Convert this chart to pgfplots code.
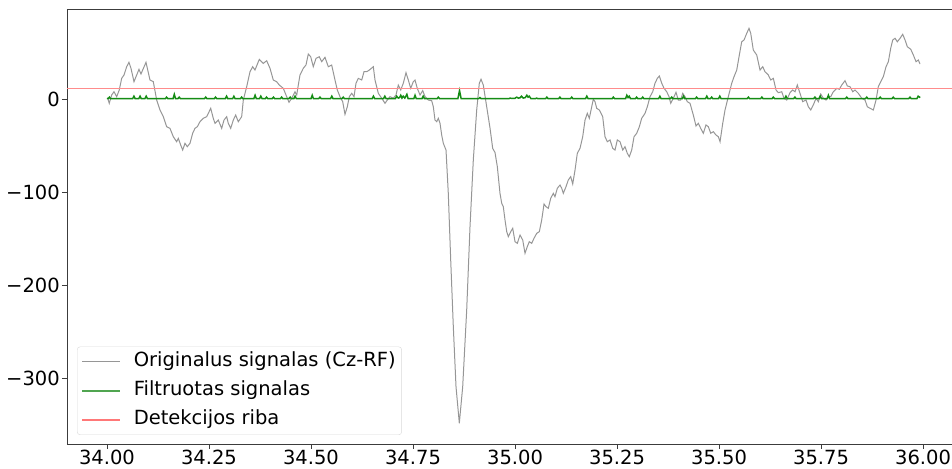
\documentclass[border=0pt]{standalone}
\usepackage{fontspec}
\setmainfont{DejaVu Sans}
\usepackage{pgfplots}
\pgfplotsset{compat=1.18}
\definecolor{sig}{RGB}{150,150,150}
\definecolor{filt}{RGB}{20,140,20}
\definecolor{filtl}{RGB}{80,165,80}
\definecolor{thr}{RGB}{255,140,140}
\definecolor{thrl}{RGB}{255,120,120}
\definecolor{spine}{RGB}{60,60,60}
\begin{document}
\begin{tikzpicture}
\begin{axis}[
  name=ax,
  width=885pt, height=435pt, scale only axis,
  xmin=33.902, xmax=36.071, ymin=-370.6, ymax=96.7,
  axis lines=left,
  axis line style={-, spine, line width=0.8pt},
  tick style={spine, line width=0.8pt},
  tick align=outside, major tick length=5pt,
  xtick={34,34.25,34.5,34.75,35,35.25,35.5,35.75,36},
  xticklabels={34.00,34.25,34.50,34.75,35.00,35.25,35.50,35.75,36.00},
  ytick={-300,-200,-100,0},
  yticklabels={−300,−200,−100,0},
  every tick label/.append style={font=\fontsize{19.5}{22}\selectfont, text=black},
  xticklabel style={inner sep=0pt, yshift=-0.5pt},
  yticklabel style={inner sep=0pt, xshift=-2pt},
  legend image code/.code={\draw[#1] (0pt,0pt) -- (38pt,0pt);},
  legend cell align=left,
  legend style={at={(0.0113,0.0207)}, anchor=south west,
    draw=black!15, rounded corners=3pt, fill=white,
    inner sep=4pt, row sep=7pt, column sep=11pt,
    font=\fontsize{19.5}{22}\selectfont,
    nodes={inner sep=2pt, text height=14pt, text depth=4pt}},
]
\addplot[draw=sig, line width=1pt, forget plot] coordinates {
(34.0017,0.8) (34.0056,-4.6) (34.0115,4.3) (34.0172,7.8) (34.0238,2.5) (34.0301,9.7) (34.0360,22.2) (34.0417,25.8) (34.0483,34.7) (34.0539,39.4)
(34.0588,33.0) (34.0662,18.6) (34.0784,31.9) (34.0833,26.9) (34.0956,39.4) (34.1054,20.4) (34.1135,18.6) (34.1218,-1.1) (34.1299,-11.8) (34.1380,-19.0)
(34.1463,-29.8) (34.1544,-31.5) (34.1625,-40.5) (34.1708,-45.9) (34.1748,-42.2) (34.1806,-49.4) (34.1855,-54.8) (34.1912,-47.6) (34.1968,-51.2) (34.2034,-47.6)
(34.2100,-36.8) (34.2157,-31.5) (34.2213,-29.8) (34.2279,-24.4) (34.2360,-20.7) (34.2444,-19.0) (34.2542,-10.0) (34.2605,-20.7) (34.2647,-26.1) (34.2728,-22.6)
(34.2811,-31.5) (34.2868,-22.6) (34.2934,-19.0) (34.2973,-26.1) (34.3032,-31.5) (34.3096,-22.6) (34.3154,-17.2) (34.3218,-24.4) (34.3301,-19.0) (34.3341,-1.1)
(34.3424,13.2) (34.3505,29.3) (34.3571,34.7) (34.3627,31.1) (34.3733,42.6) (34.3831,38.3) (34.3914,41.1) (34.3995,33.0) (34.4076,20.4) (34.4159,18.6)
(34.4223,15.0) (34.4321,11.5) (34.4404,2.5) (34.4461,-3.5) (34.4527,0.8) (34.4608,7.8) (34.4650,4.3) (34.4689,15.0) (34.4730,25.8) (34.4811,33.0)
(34.4877,36.5) (34.4934,48.3) (34.4993,45.4) (34.5056,34.7) (34.5123,43.7) (34.5203,45.4) (34.5262,40.1) (34.5343,44.8) (34.5424,34.7) (34.5507,36.5)
(34.5588,20.4) (34.5645,9.7) (34.5711,2.5) (34.5777,-2.9) (34.5833,-16.4) (34.5890,-8.3) (34.5939,2.5) (34.5998,6.1) (34.6054,2.5) (34.6103,16.9)
(34.6159,22.2) (34.6243,20.4) (34.6299,29.3) (34.6365,29.3) (34.6429,31.1) (34.6527,34.7) (34.6569,20.4) (34.6650,6.1) (34.6733,0.8) (34.6814,-4.6)
(34.6870,-1.1) (34.6936,2.5) (34.7017,0.8) (34.7083,4.3) (34.7140,15.0) (34.7199,9.7) (34.7262,16.9) (34.7328,28.2) (34.7385,20.4) (34.7444,11.5)
(34.7507,18.6) (34.7549,20.4) (34.7605,11.5) (34.7672,4.3) (34.7738,9.1) (34.7794,2.5) (34.7875,-1.1) (34.7958,-1.8) (34.7998,-8.3) (34.8039,-22.6)
(34.8081,-24.4) (34.8120,-20.7) (34.8162,-26.1) (34.8203,-38.7) (34.8243,-47.6) (34.8309,-54.8) (34.8365,-101.3) (34.8424,-172.9) (34.8488,-244.6) (34.8554,-309.0)
(34.8635,-348.3) (34.8718,-309.0) (34.8816,-226.6) (34.8897,-137.2) (34.8978,-65.5) (34.9061,-11.8) (34.9125,16.9) (34.9167,21.2) (34.9223,15.0) (34.9306,-8.3)
(34.9387,-31.1) (34.9453,-53.0) (34.9510,-57.5) (34.9566,-72.5) (34.9632,-101.3) (34.9674,-112.0) (34.9713,-115.7) (34.9755,-130.0) (34.9797,-142.5) (34.9836,-147.9)
(34.9895,-142.5) (34.9944,-138.9) (35.0000,-153.3) (35.0056,-155.0) (35.0123,-146.1) (35.0189,-151.5) (35.0245,-165.7) (35.0301,-158.6) (35.0350,-153.3) (35.0409,-155.0)
(35.0466,-149.6) (35.0532,-144.3) (35.0596,-142.5) (35.0654,-130.0) (35.0711,-112.8) (35.0760,-115.7) (35.0816,-117.4) (35.0875,-106.7) (35.0939,-101.3) (35.0980,-104.9)
(35.1037,-95.9) (35.1103,-92.4) (35.1145,-95.9) (35.1184,-101.3) (35.1250,-94.2) (35.1306,-87.0) (35.1365,-83.4) (35.1414,-91.3) (35.1471,-76.3) (35.1527,-58.3)
(35.1593,-53.0) (35.1659,-40.5) (35.1716,-22.6) (35.1772,-15.4) (35.1821,-20.7) (35.1880,-8.3) (35.1919,-0.3) (35.1961,-2.9) (35.2002,-10.0) (35.2066,-11.8)
(35.2149,-19.0) (35.2206,-40.5) (35.2262,-45.9) (35.2328,-44.0) (35.2395,-53.0) (35.2451,-54.8) (35.2507,-44.0) (35.2574,-45.9) (35.2640,-54.8) (35.2696,-51.2)
(35.2752,-58.3) (35.2801,-62.0) (35.2860,-54.8) (35.2917,-40.5) (35.2983,-36.8) (35.3047,-29.8) (35.3105,-20.7) (35.3186,-15.4) (35.3243,-8.3) (35.3309,2.5)
(35.3375,7.8) (35.3431,16.9) (35.3488,22.2) (35.3537,24.7) (35.3596,16.9) (35.3652,11.5) (35.3718,7.8) (35.3775,2.5) (35.3816,-4.6) (35.3880,0.8)
(35.3946,7.2) (35.4002,-1.1) (35.4061,-1.1) (35.4110,6.1) (35.4167,2.5) (35.4223,-2.9) (35.4289,-4.6) (35.4370,-17.2) (35.4436,-29.0) (35.4493,-26.1)
(35.4551,-31.5) (35.4615,-36.8) (35.4681,-27.9) (35.4738,-29.8) (35.4797,-36.8) (35.4860,-35.1) (35.4926,-38.7) (35.4983,-40.5) (35.5025,-45.9) (35.5091,-26.1)
(35.5147,-11.8) (35.5228,2.5) (35.5311,16.9) (35.5368,24.0) (35.5434,31.1) (35.5498,47.3) (35.5556,61.5) (35.5613,63.4) (35.5679,70.6) (35.5735,75.9)
(35.5777,70.6) (35.5840,52.6) (35.5924,47.3) (35.6005,31.1) (35.6071,34.7) (35.6127,29.3) (35.6208,25.8) (35.6267,20.4) (35.6331,22.2) (35.6397,9.7)
(35.6453,6.8) (35.6537,7.8) (35.6593,0.8) (35.6659,-1.1) (35.6740,6.8) (35.6806,9.7) (35.6863,7.8) (35.6919,15.0) (35.6985,6.1) (35.7051,-2.9)
(35.7132,-1.1) (35.7189,-8.3) (35.7248,-11.8) (35.7311,-6.4) (35.7377,0.8) (35.7434,-2.9) (35.7493,5.4) (35.7556,0.8) (35.7623,-1.1) (35.7679,2.5)
(35.7738,2.5) (35.7801,7.8) (35.7885,11.5) (35.7948,10.4) (35.8007,15.0) (35.8088,19.7) (35.8145,14.0) (35.8211,13.2) (35.8277,7.8) (35.8333,9.7)
(35.8414,6.1) (35.8498,0.8) (35.8578,-1.1) (35.8635,-8.3) (35.8701,-10.0) (35.8782,-11.8) (35.8848,-1.1) (35.8904,13.2) (35.8963,18.6) (35.9027,24.0)
(35.9093,34.7) (35.9150,40.1) (35.9208,54.5) (35.9257,63.4) (35.9314,65.2) (35.9370,61.5) (35.9436,65.2) (35.9502,69.5) (35.9559,63.4) (35.9615,56.2)
(35.9699,53.4) (35.9762,47.3) (35.9828,40.1) (35.9885,41.9) (35.9926,37.6)
};
\addplot[draw=filt, line width=1.5pt, forget plot] coordinates {
(34.000,0.8) (34.003,0.4) (34.006,2) (34.009,0.4)
(34.063,0.4) (34.066,3) (34.069,0.4) (34.078,0.4) (34.081,3) (34.084,0.4)
(34.093,0.4) (34.096,3) (34.099,0.4) (34.143,0.4) (34.146,2) (34.149,0.4)
(34.162,0.4) (34.165,5) (34.168,0.4) (34.174,0.4) (34.177,2) (34.180,0.4)
(34.239,0.4) (34.242,2) (34.245,0.4) (34.263,0.4) (34.266,2) (34.269,0.4)
(34.290,0.4) (34.293,3) (34.296,0.4) (34.308,0.4) (34.311,3) (34.314,0.4)
(34.327,0.4) (34.330,2) (34.333,0.4) (34.360,0.4) (34.363,4) (34.366,0.4)
(34.374,0.4) (34.377,3) (34.380,0.4) (34.388,0.4) (34.391,2) (34.394,0.4)
(34.405,0.4) (34.408,2) (34.411,0.4) (34.425,0.4) (34.428,2) (34.431,0.4)
(34.446,0.4) (34.449,2) (34.452,0.4) (34.458,0.4) (34.461,3) (34.464,0.4)
(34.500,0.4) (34.503,4) (34.506,0.4) (34.519,0.4) (34.522,2) (34.525,0.4)
(34.548,0.4) (34.551,3) (34.554,0.4) (34.576,0.4) (34.579,2) (34.582,0.4)
(34.650,0.4) (34.653,3) (34.656,0.4) (34.678,0.4) (34.681,3) (34.684,0.4)
(34.707,0.4) (34.710,3) (34.714,1) (34.717,1.5) (34.720,4) (34.723,1) (34.726,3) (34.730,1) (34.735,5) (34.738,0.4)
(34.752,0.4) (34.755,4) (34.758,0.4) (34.772,0.4) (34.775,3) (34.778,0.4)
(34.809,0.4) (34.812,2) (34.815,0.4) (34.860,0.4) (34.864,9) (34.868,0.4)
(34.911,0.4) (34.914,1.5) (34.917,0.4)
(34.985,0.4) (34.988,1) (34.992,0.6) (35.000,0.8) (35.004,2) (35.008,1) (35.012,1.2) (35.016,3) (35.020,1) (35.025,1.5) (35.029,4) (35.032,2) (35.035,3) (35.039,0.4)
(35.050,0.4) (35.053,1) (35.056,0.4) (35.075,0.4) (35.078,2) (35.081,0.4)
(35.107,0.4) (35.110,2) (35.113,0.4) (35.136,0.4) (35.139,2) (35.142,0.4)
(35.173,0.4) (35.176,3) (35.179,0.4) (35.238,0.4) (35.241,2) (35.244,0.4)
(35.271,0.4) (35.274,4) (35.277,1.5) (35.280,3) (35.283,0.4)
(35.295,0.4) (35.298,2) (35.301,0.4) (35.310,0.4) (35.313,2) (35.316,0.4)
(35.352,0.4) (35.355,3) (35.358,0.4) (35.381,0.4) (35.384,2) (35.387,0.4)
(35.410,0.4) (35.413,3) (35.416,0.4) (35.442,0.4) (35.445,2) (35.448,0.4)
(35.467,0.4) (35.470,3) (35.473,0.4) (35.479,0.4) (35.482,2) (35.485,0.4)
(35.499,0.4) (35.502,3) (35.505,0.4) (35.569,0.4) (35.572,2) (35.575,0.4)
(35.602,0.4) (35.605,2) (35.608,0.4) (35.630,0.4) (35.633,2) (35.636,0.4)
(35.661,0.4) (35.664,3) (35.667,0.4) (35.683,0.4) (35.686,2) (35.689,0.4)
(35.732,0.4) (35.735,2) (35.738,0.4) (35.745,0.4) (35.748,3) (35.751,0.4)
(35.765,0.4) (35.768,4) (35.771,0.4) (35.810,0.4) (35.813,2) (35.816,0.4)
(35.859,0.4) (35.862,2) (35.865,0.4) (35.892,0.4) (35.895,2) (35.898,0.4)
(35.924,0.4) (35.927,2) (35.930,0.4) (35.965,0.4) (35.968,2) (35.971,0.4)
(35.985,0.4) (35.988,3) (35.993,1.5)
};
\addplot[draw=thr, line width=1.3pt, forget plot] coordinates {(33.902,11) (36.071,11)};
\addlegendimage{draw=sig, line width=1pt}
\addlegendentry{Originalus signalas (Cz-RF)}
\addlegendimage{draw=filtl, line width=1.5pt}
\addlegendentry{Filtruotas signalas}
\addlegendimage{draw=thrl, line width=1.6pt}
\addlegendentry{Detekcijos riba}
\draw[spine, line width=0.8pt] (rel axis cs:0,1) -- (rel axis cs:1,1);
\end{axis}
\pgfresetboundingbox
\path ([shift={(-67pt,-24pt)}]ax.south west) rectangle ([shift={(0pt,9pt)}]ax.north east);
\end{tikzpicture}
\end{document}
